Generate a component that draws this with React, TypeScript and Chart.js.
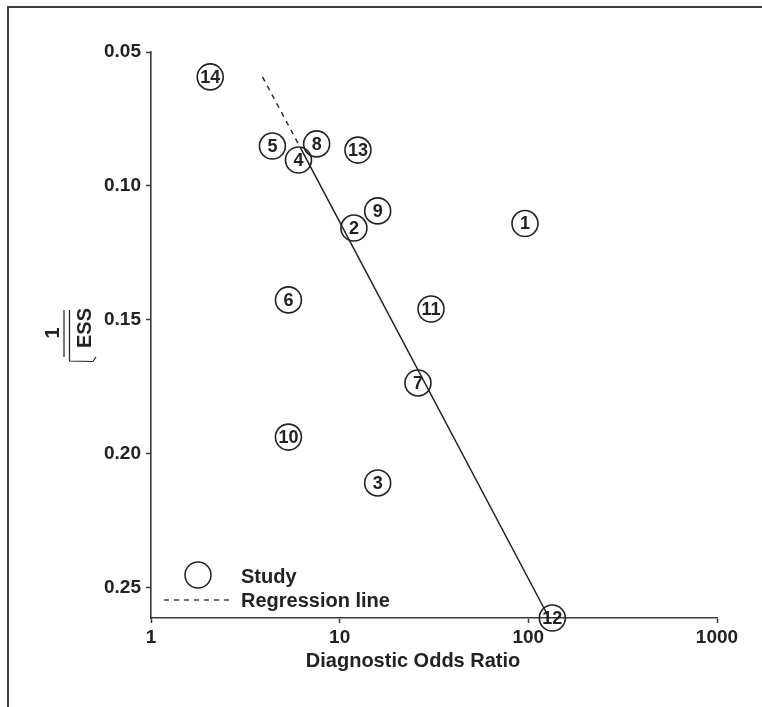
import React, { useEffect, useRef } from 'react';
import { Chart, registerables } from 'chart.js';

Chart.register(...registerables);

// ---- Data ----
const studyIds = ['1', '2', '3', '4', '5', '6', '7', '8', '9', '10', '11', '12', '13', '14'];
const studyDOR = [96, 11.9, 15.9, 6.05, 4.4, 5.35, 26.0, 7.55, 15.9, 5.35, 30.5, 134, 12.5, 2.06];
const studyInvSqrtESS = [0.114, 0.1157, 0.2108, 0.0903, 0.0851, 0.1425, 0.1735, 0.0843, 0.1093, 0.1937, 0.1459, 0.2612, 0.0866, 0.0593];

const regressionDashedDOR = [3.9, 6.2];
const regressionDashedY = [0.0593, 0.0858];
const regressionSolidDOR = [6.2, 129];
const regressionSolidY = [0.0858, 0.2612];

const xTicks = [1, 10, 100, 1000];
const yTicks = [0.05, 0.1, 0.15, 0.2, 0.25];
const xMin = 1;
const xMax = 1000;
const yMin = 0.05;
const yMax = 0.2612;

const xTitle = 'Diagnostic Odds Ratio';
const yTitleNumerator = '1';
const yTitleRadicand = 'ESS';
const legendLabels = ['Study', 'Regression line'];

const FONT = '"Liberation Sans", Arial, Helvetica, sans-serif';
const INK = '#222222';
const AXIS = '#3a3a3a';

const framePlugin = {
  id: 'frame',
  beforeDraw(chart: any) {
    const ctx = chart.ctx;
    ctx.save();
    ctx.fillStyle = '#ffffff';
    ctx.fillRect(0, 0, chart.width, chart.height);
    ctx.fillStyle = '#3c3c3c';
    ctx.fillRect(7, 6, chart.width - 7, 2);
    ctx.fillRect(7, 6, 2, chart.height - 6);
    ctx.restore();
  },
};

const pointLabelPlugin = {
  id: 'pointLabels',
  afterDatasetsDraw(chart: any) {
    const ctx = chart.ctx;
    const meta = chart.getDatasetMeta(0);
    ctx.save();
    ctx.fillStyle = INK;
    ctx.font = `bold 18px ${FONT}`;
    ctx.textAlign = 'center';
    ctx.textBaseline = 'middle';
    meta.data.forEach((el: any, i: number) => {
      ctx.fillText(studyIds[i], el.x, el.y + 1);
    });
    ctx.restore();
  },
};

const annotationPlugin = {
  id: 'titlesAndLegend',
  afterDraw(chart: any) {
    const ctx = chart.ctx;
    const area = chart.chartArea;
    ctx.save();
    ctx.fillStyle = INK;
    ctx.strokeStyle = INK;

    // X axis title
    ctx.font = `bold 20px ${FONT}`;
    ctx.textAlign = 'center';
    ctx.textBaseline = 'alphabetic';
    ctx.fillText(xTitle, area.left + (area.right - area.left) * 0.463, 667);

    // Y axis title: 1 / sqrt(ESS), rotated
    ctx.save();
    ctx.translate(70, 334);
    ctx.rotate(-Math.PI / 2);
    ctx.font = `bold 20px ${FONT}`;
    ctx.textAlign = 'center';
    ctx.textBaseline = 'middle';
    ctx.fillText(yTitleNumerator, 1, -17);
    ctx.lineWidth = 1.2;
    ctx.beginPath();
    ctx.moveTo(-23, -6);
    ctx.lineTo(24, -6);
    ctx.stroke();
    ctx.fillText(yTitleRadicand, 6, 15);
    ctx.beginPath();
    ctx.moveTo(24, -0.5);
    ctx.lineTo(-27, -0.5);
    ctx.lineTo(-27.5, 23);
    ctx.lineTo(-23, 26);
    ctx.stroke();
    ctx.restore();

    // Legend
    ctx.lineWidth = 1.5;
    ctx.beginPath();
    ctx.arc(198, 575, 13, 0, Math.PI * 2);
    ctx.stroke();
    ctx.setLineDash([5, 5]);
    ctx.lineWidth = 1.3;
    ctx.beginPath();
    ctx.moveTo(164, 600);
    ctx.lineTo(234, 600);
    ctx.stroke();
    ctx.setLineDash([]);
    ctx.font = `bold 20px ${FONT}`;
    ctx.textAlign = 'left';
    ctx.textBaseline = 'alphabetic';
    ctx.fillText(legendLabels[0], 241, 583);
    ctx.fillText(legendLabels[1], 241, 607);
    ctx.restore();
  },
};

export default function App() {
  const canvasRef = useRef<HTMLCanvasElement | null>(null);

  useEffect(() => {
    document.body.style.margin = '0';
    const canvas = canvasRef.current;
    if (!canvas) return;

    const tickFont = { family: FONT, size: 19, weight: 'bold' as const };

    const chart = new Chart(canvas, {
      type: 'scatter',
      data: {
        datasets: [
          {
            label: legendLabels[0],
            data: studyDOR.map((x, i) => ({ x, y: studyInvSqrtESS[i] })),
            pointStyle: 'circle',
            pointRadius: 13,
            pointBorderWidth: 1.6,
            pointBorderColor: INK,
            pointBackgroundColor: 'rgba(0,0,0,0)',
            showLine: false,
            clip: false as any,
          },
          {
            label: legendLabels[1],
            data: regressionDashedDOR.map((x, i) => ({ x, y: regressionDashedY[i] })),
            showLine: true,
            borderColor: INK,
            borderWidth: 1.4,
            borderDash: [5, 5],
            pointRadius: 0,
            clip: false as any,
          },
          {
            label: legendLabels[1] + ' (fit)',
            data: regressionSolidDOR.map((x, i) => ({ x, y: regressionSolidY[i] })),
            showLine: true,
            borderColor: INK,
            borderWidth: 1.5,
            pointRadius: 0,
            clip: false as any,
          },
        ],
      },
      options: {
        animation: false,
        responsive: false,
        events: [],
        layout: { padding: { top: 52, right: 45, left: 0, bottom: 0 } },
        plugins: {
          legend: { display: false },
          tooltip: { enabled: false },
          title: { display: false },
        },
        scales: {
          x: {
            type: 'logarithmic',
            position: 'bottom',
            min: xMin,
            max: xMax,
            afterBuildTicks: (scale: any) => {
              scale.ticks = xTicks.map((v) => ({ value: v }));
            },
            afterFit: (scale: any) => {
              scale.height = 89;
            },
            ticks: {
              callback: (v: any) => String(v),
              font: tickFont,
              color: INK,
              padding: 3,
              maxRotation: 0,
              autoSkip: false,
            },
            grid: {
              display: true,
              drawOnChartArea: false,
              drawTicks: true,
              tickLength: 5,
              tickWidth: 1.5,
              tickColor: AXIS,
            },
            border: { display: true, color: AXIS, width: 1.6 },
          },
          y: {
            type: 'linear',
            reverse: true,
            min: yMin,
            max: yMax,
            afterBuildTicks: (scale: any) => {
              scale.ticks = yTicks.map((v) => ({ value: v }));
            },
            afterFit: (scale: any) => {
              scale.width = 151;
            },
            ticks: {
              callback: (v: any) => Number(v).toFixed(2),
              font: tickFont,
              color: INK,
              padding: 5,
              autoSkip: false,
            },
            grid: {
              display: true,
              drawOnChartArea: false,
              drawTicks: true,
              tickLength: 5,
              tickWidth: 1.5,
              tickColor: AXIS,
            },
            border: { display: true, color: AXIS, width: 1.6 },
          },
        },
      } as any,
      plugins: [framePlugin, pointLabelPlugin, annotationPlugin],
    });

    return () => {
      chart.destroy();
    };
  }, []);

  return (
    <div style={{ width: 762, height: 707, position: 'relative' }}>
      <canvas ref={canvasRef} width={762} height={707} style={{ display: 'block' }} />
    </div>
  );
}
